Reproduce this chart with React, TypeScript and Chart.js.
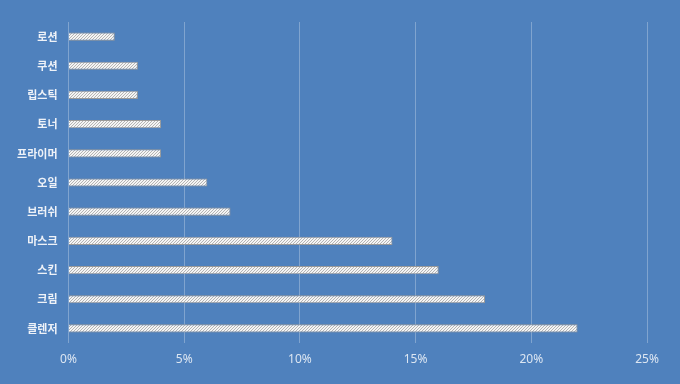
import React, { useEffect, useRef } from "react";
import { Chart, registerables } from "chart.js";

Chart.register(...registerables);

const categories = ["로션", "쿠션", "립스틱", "토너", "프라이머", "오일", "브러쉬", "마스크", "스킨", "크림", "클렌저"];
const values = [2, 3, 3, 4, 4, 6, 7, 14, 16, 18, 22];
const xTicks = [0, 5, 10, 15, 20, 25];

function makePattern(): CanvasPattern | string {
  const c = document.createElement("canvas");
  c.width = 3;
  c.height = 3;
  const ctx = c.getContext("2d");
  if (!ctx) return "#ffffff";
  ctx.fillStyle = "#f4f4f4";
  ctx.fillRect(0, 0, 3, 3);
  ctx.fillStyle = "#b4b4b4";
  ctx.fillRect(2, 0, 1, 1);
  ctx.fillRect(1, 1, 1, 1);
  ctx.fillRect(0, 2, 1, 1);
  const p = ctx.createPattern(c, "repeat");
  return p || "#ffffff";
}

export default function App() {
  const ref = useRef<HTMLCanvasElement | null>(null);
  useEffect(() => {
    document.body.style.margin = "0";
    if (!ref.current) return;
    const chart = new Chart(ref.current, {
      type: "bar",
      data: {
        labels: categories,
        datasets: [
          {
            data: values,
            backgroundColor: makePattern() as any,
            borderColor: "#9a9a9a",
            borderWidth: 1,
            barPercentage: 0.28,
            categoryPercentage: 1,
          },
        ],
      },
      options: {
        indexAxis: "y",
        animation: false,
        responsive: false,
        maintainAspectRatio: false,
        layout: { padding: { top: 22, right: 33, left: 0, bottom: 0 } },
        plugins: { legend: { display: false }, tooltip: { enabled: false } },
        scales: {
          x: {
            min: 0,
            max: 25,
            afterBuildTicks: (s: any) => {
              s.ticks = xTicks.map((v) => ({ value: v }));
            },
            afterFit: (s: any) => {
              s.height = 41;
            },
            grid: { color: "rgba(255,255,255,0.28)", lineWidth: 1, drawTicks: false, tickLength: 0 },
            border: { display: false },
            ticks: {
              color: "#dce6f2",
              padding: 9,
              font: { family: "'Noto Sans', 'Noto Sans CJK KR'", size: 12 },
              callback: (v: any) => v + "%",
            },
          },
          y: {
            afterFit: (s: any) => {
              s.width = 68.5;
            },
            grid: { display: false, drawTicks: false },
            border: { display: false },
            ticks: {
              color: "#eef2f8",
              padding: 11,
              font: { family: "'Noto Sans CJK KR'", size: 11, weight: "600" },
            },
          },
        },
      },
    });
    return () => chart.destroy();
  }, []);
  return (
    <div style={{ position: "absolute", left: 0, top: 0, width: 680, height: 384, background: "#4f81bd" }}>
      <canvas ref={ref} width={680} height={384} style={{ display: "block", width: 680, height: 384 }} />
    </div>
  );
}
